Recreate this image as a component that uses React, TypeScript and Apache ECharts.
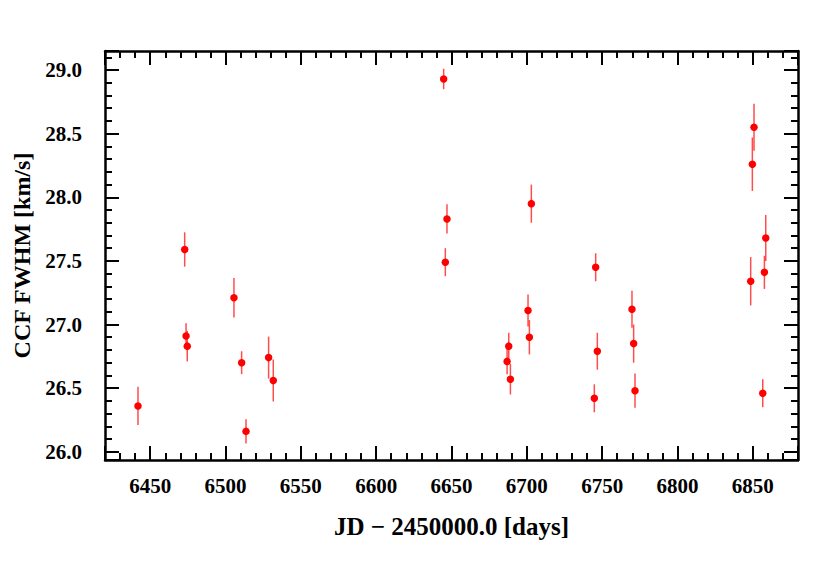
import React, { useEffect, useRef } from "react";
import * as echarts from "echarts";

const jd = [
  6441.9, 6472.9, 6473.8, 6474.6, 6505.6, 6510.7, 6513.6, 6528.6, 6531.7,
  6644.8, 6647.0, 6645.9, 6703.0, 6700.8, 6701.7, 6688.0, 6686.9, 6689.1,
  6745.7, 6746.8, 6744.8, 6769.8, 6770.9, 6771.8, 6850.8, 6849.7, 6858.6,
  6857.7, 6848.6, 6856.6,
];
const fwhm = [
  26.36, 27.59, 26.91, 26.83, 27.21, 26.7, 26.16, 26.74, 26.56,
  28.93, 27.83, 27.49, 27.95, 27.11, 26.9, 26.83, 26.71, 26.57,
  27.45, 26.79, 26.42, 27.12, 26.85, 26.48, 28.55, 28.26, 27.68,
  27.41, 27.34, 26.46,
];
const fwhmErr = [
  0.15, 0.135, 0.1, 0.12, 0.155, 0.09, 0.095, 0.165, 0.165,
  0.08, 0.115, 0.11, 0.15, 0.125, 0.135, 0.105, 0.1, 0.12,
  0.11, 0.145, 0.11, 0.145, 0.15, 0.135, 0.185, 0.21, 0.18,
  0.13, 0.19, 0.11,
];
const xLabel = "JD \u2212 2450000.0 [days]";
const yLabel = "CCF FWHM [km/s]";

const FONT = "'Liberation Serif', 'Times New Roman', serif";

export default function App() {
  const ref = useRef<HTMLDivElement>(null);
  useEffect(() => {
    document.body.style.margin = "0";
    if (!ref.current) return;
    const chart = echarts.init(ref.current, null, { renderer: "svg" });

    const axisLine = { show: true, lineStyle: { color: "#000", width: 2.5 } };
    const axisTick = { show: true, inside: true, length: 14, lineStyle: { color: "#000", width: 2 } };
    const minorTick = { show: true, splitNumber: 5, length: 7, lineStyle: { color: "#000", width: 2 } };
    const labelStyle = { fontFamily: FONT, fontWeight: "bold" as const, fontSize: 21, color: "#000" };

    const xBase = {
      type: "value" as const,
      min: 6420,
      max: 6880,
      minInterval: 50,
      maxInterval: 50,
      splitNumber: 9,
      axisLine,
      axisTick,
      minorTick,
      splitLine: { show: false },
    };
    const yBase = {
      type: "value" as const,
      min: 25.935,
      max: 29.15,
      minInterval: 0.5,
      maxInterval: 0.5,
      splitNumber: 6,
      axisLine,
      axisTick,
      minorTick,
      splitLine: { show: false },
    };

    const errData = jd.map((x, i) => [x, fwhm[i] - fwhmErr[i], fwhm[i] + fwhmErr[i]]);
    const ptData = jd.map((x, i) => [x, fwhm[i]]);

    chart.setOption({
      animation: false,
      grid: { left: 105, right: 33, top: 51, bottom: 107, containLabel: false },
      xAxis: [
        {
          ...xBase,
          position: "bottom",
          name: xLabel,
          nameLocation: "middle",
          nameGap: 54,
          nameTextStyle: { fontFamily: FONT, fontWeight: "bold", fontSize: 25, color: "#000" },
          axisLabel: {
            ...labelStyle,
            margin: 15,
            formatter: (v: number) => (Math.abs(v / 50 - Math.round(v / 50)) < 1e-6 ? String(Math.round(v)) : ""),
          },
        },
        { ...xBase, position: "top", axisLabel: { show: false } },
      ],
      yAxis: [
        {
          ...yBase,
          position: "left",
          name: yLabel,
          nameLocation: "middle",
          nameGap: 67,
          nameTextStyle: { fontFamily: FONT, fontWeight: "bold", fontSize: 24, color: "#000" },
          axisLabel: {
            ...labelStyle,
            margin: 23,
            formatter: (v: number) => (Math.abs(v * 2 - Math.round(v * 2)) < 1e-6 ? v.toFixed(1) : ""),
          },
        },
        { ...yBase, position: "right", axisLabel: { show: false } },
      ],
      series: [
        {
          type: "custom",
          xAxisIndex: 0,
          yAxisIndex: 0,
          data: errData,
          encode: { x: 0, y: [1, 2] },
          renderItem: (params: any, api: any) => {
            const x = api.value(0);
            const p1 = api.coord([x, api.value(1)]);
            const p2 = api.coord([x, api.value(2)]);
            return {
              type: "line",
              shape: { x1: p1[0], y1: p1[1], x2: p2[0], y2: p2[1] },
              style: { stroke: "rgba(255,0,0,0.7)", lineWidth: 1.5 },
            };
          },
          z: 2,
        },
        {
          type: "scatter",
          xAxisIndex: 0,
          yAxisIndex: 0,
          data: ptData,
          symbol: "circle",
          symbolSize: 7.5,
          itemStyle: { color: "#ff0000", opacity: 1 },
          z: 3,
        },
      ],
    });
    return () => chart.dispose();
  }, []);
  return <div ref={ref} style={{ width: 831, height: 567 }} />;
}
